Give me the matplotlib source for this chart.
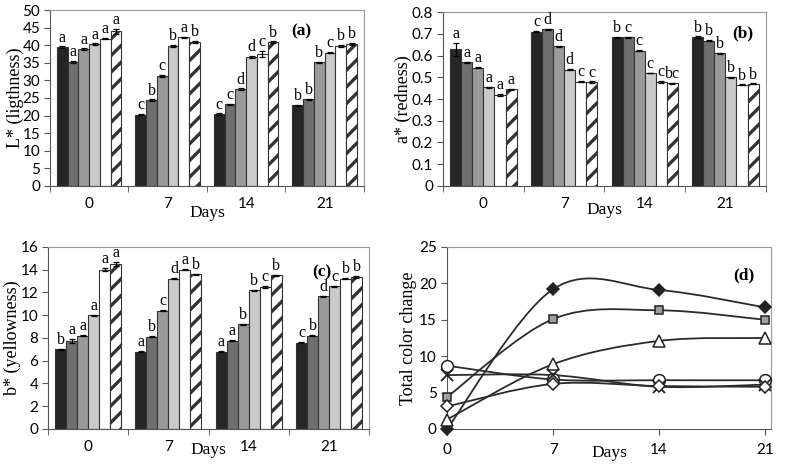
import numpy as np
import matplotlib
matplotlib.use("Agg")
import matplotlib.pyplot as plt
from matplotlib.path import Path
from matplotlib.patches import PathPatch

# days on the x axis
days = ["0", "7", "14", "21"]
day_num = [0, 7, 14, 21]

# (a) L* lightness, six treatments per day
L_vals = [[39.5, 35.2, 38.8, 40.3, 41.9, 43.9],
          [20.3, 24.4, 31.3, 39.8, 42.2, 41.0],
          [20.4, 23.2, 27.5, 36.7, 37.5, 40.9],
          [22.9, 24.6, 35.1, 37.9, 39.8, 40.4]]
L_err = [[0.2, 0.4, 0.3, 0.2, 0.2, 0.7],
         [0.2, 0.2, 0.2, 0.3, 0.2, 0.3],
         [0.2, 0.2, 0.2, 0.2, 0.9, 0.2],
         [0.2, 0.2, 0.2, 0.2, 0.3, 0.3]]
L_let = [["a", "a", "a", "a", "a", "a"],
         ["c", "b", "c", "b", "a", "b"],
         ["c", "c", "d", "d", "c", "b"],
         ["b", "b", "b", "c", "b", "b"]]

# (b) a* redness
a_vals = [[0.630, 0.570, 0.545, 0.455, 0.420, 0.445],
          [0.710, 0.720, 0.643, 0.535, 0.480, 0.477],
          [0.685, 0.685, 0.623, 0.520, 0.478, 0.472],
          [0.685, 0.668, 0.610, 0.500, 0.465, 0.470]]
a_err = [[0.030, 0.002, 0.002, 0.002, 0.004, 0.003],
         [0.002, 0.002, 0.002, 0.002, 0.002, 0.004],
         [0.002, 0.002, 0.003, 0.002, 0.004, 0.002],
         [0.003, 0.002, 0.002, 0.002, 0.002, 0.002]]
a_let = [["a", "a", "a", "a", "a", "a"],
         ["c", "d", "d", "d", "c", "c"],
         ["b", "c", "c", "c", "c", "bc"],
         ["b", "b", "b", "b", "b", "b"]]

# (c) b* yellowness
b_vals = [[7.0, 7.75, 8.2, 10.0, 14.0, 14.5],
          [6.8, 8.1, 10.4, 13.2, 14.0, 13.6],
          [6.8, 7.75, 9.2, 12.2, 12.5, 13.5],
          [7.6, 8.2, 11.65, 12.55, 13.2, 13.35]]
b_err = [[0.05, 0.15, 0.05, 0.05, 0.15, 0.15],
         [0.05, 0.05, 0.05, 0.05, 0.05, 0.05],
         [0.05, 0.05, 0.05, 0.05, 0.1, 0.05],
         [0.05, 0.05, 0.05, 0.05, 0.05, 0.1]]
b_let = [["b", "a", "a", "a", "a", "a"],
         ["a", "b", "c", "d", "a", "b"],
         ["a", "a", "b", "b", "c", "b"],
         ["c", "b", "d", "c", "b", "b"]]

# (d) total colour change
dE_fdiam = [0.0, 19.2, 19.1, 16.7]
dE_square = [4.4, 15.1, 16.3, 15.0]
dE_tri = [1.3, 8.9, 12.1, 12.5]
dE_circle = [8.7, 6.8, 6.7, 6.7]
dE_x = [7.4, 7.4, 5.8, 6.1]
dE_odiam = [3.1, 6.2, 5.9, 5.8]

serif = "Liberation Serif"
sans = "Lato"
bar_faces = ["#262626", "#6f6f6f", "#9a9a9a", "#cacaca", "white", "white"]
frame = "#9a9a9a"

plt.rcParams["font.family"] = [sans, "DejaVu Sans"]
plt.rcParams["hatch.linewidth"] = 2.4

fig = plt.figure(figsize=(7.87, 4.66), dpi=100)


def style_axes(ax, xlab_y, ylab_x, ylabel, tag, tagpos):
    ax.tick_params(axis="both", labelsize=11)
    ax.set_xlabel("Days", family=serif, fontsize=12.5, va="center")
    ax.xaxis.set_label_coords(0.5, xlab_y)
    ax.set_ylabel(ylabel, family=serif, fontsize=13, va="center")
    ax.yaxis.set_label_coords(ylab_x, 0.5)
    for s in ["top", "right"]:
        ax.spines[s].set_color(frame)
    ax.spines["left"].set_color("#555555")
    ax.spines["bottom"].set_color("#555555")
    ax.text(tagpos[0], tagpos[1], tag, transform=ax.transAxes, family=serif,
            fontsize=12.5, fontweight="bold", ha="center", va="center")


def bar_panel(rect, vals, errs, lets, ymax, ystep, ylabel, tag, tagpos, fmt,
              letoff, xlab_y, ylab_x):
    ax = fig.add_axes(rect)
    x = np.arange(len(days))
    w = 0.137
    for k in range(6):
        xs = x + (k - 2.5) * w
        hv = [v[k] for v in vals]
        ev = [e[k] for e in errs]
        ax.bar(xs, hv, width=w, color=bar_faces[k], edgecolor="#333333",
               linewidth=0.8, hatch="//" if k == 5 else None, zorder=2)
        ax.errorbar(xs, hv, yerr=ev, fmt="none", ecolor="black",
                    elinewidth=0.9, capsize=2.2, capthick=0.9, zorder=3)
        for xi, h, e, lt in zip(xs, hv, ev, [l[k] for l in lets]):
            ax.text(xi, h + e + letoff, lt, ha="center", va="bottom",
                    family=serif, fontsize=11.5, zorder=4)
    ax.set_xlim(-0.5, len(days) - 0.5)
    ax.set_ylim(0, ymax)
    ax.set_yticks(np.arange(0, ymax + ystep / 2, ystep))
    ax.yaxis.set_major_formatter(plt.FuncFormatter(fmt))
    ax.set_xticks(x)
    ax.set_xticklabels(days)
    ax.set_xticks(np.arange(-0.5, len(days)), minor=True)
    ax.tick_params(axis="x", which="major", length=0, pad=8)
    ax.tick_params(axis="x", which="minor", length=4, color="#555555")
    ax.tick_params(axis="y", length=4, color="#555555", pad=3)
    style_axes(ax, xlab_y, ylab_x, ylabel, tag, tagpos)
    return ax


bar_panel([0.0635, 0.601, 0.399, 0.3775], L_vals, L_err, L_let, 50, 5,
          "L* (ligthness)", "(a)", (0.80, 0.88), lambda v, p: f"{v:.0f}", 0.2,
          -0.153, -0.111)
bar_panel([0.563, 0.601, 0.410, 0.373], a_vals, a_err, a_let, 0.8, 0.1,
          "a* (redness)", "(b)", (0.93, 0.875),
          lambda v, p: "0" if v == 0 else f"{v:.1f}", 0.004, -0.138, -0.124)
bar_panel([0.061, 0.0794, 0.408, 0.3906], b_vals, b_err, b_let, 16, 2,
          "b* (yellowness)", "(c)", (0.853, 0.863), lambda v, p: f"{v:.0f}",
          0.08, -0.115, -0.112)

# (d) smoothed lines, Excel style
ax = fig.add_axes([0.568, 0.0794, 0.412, 0.3906])


def smooth_path(xv, yv):
    pts = np.column_stack([xv, yv]).astype(float)
    n = len(pts)
    verts = [pts[0]]
    codes = [Path.MOVETO]
    for i in range(n - 1):
        p0 = pts[max(i - 1, 0)]
        p1 = pts[i]
        p2 = pts[i + 1]
        p3 = pts[min(i + 2, n - 1)]
        c1 = p1 + (p2 - p0) / 6.0
        c2 = p2 - (p3 - p1) / 6.0
        verts += [c1, c2, p2]
        codes += [Path.CURVE4] * 3
    return Path(verts, codes)


series = [
    (dE_fdiam, dict(marker="D", ms=6.5, mfc="#222222", mec="#222222")),
    (dE_square, dict(marker="s", ms=5.5, mfc="#a0a0a0", mec="#222222")),
    (dE_tri, dict(marker="^", ms=9, mfc="white", mec="#222222")),
    (dE_circle, dict(marker="o", ms=8.5, mfc="white", mec="#222222")),
    (dE_x, dict(marker="x", ms=8, mfc="none", mec="#222222", mew=1.3)),
    (dE_odiam, dict(marker="D", ms=6.5, mfc="white", mec="#222222")),
]
for yv, mk in series:
    ax.add_patch(PathPatch(smooth_path(day_num, yv), facecolor="none",
                           edgecolor="#2b2b2b", linewidth=1.3, zorder=2))
    kw = dict(mk)
    kw.setdefault("mew", 1.1)
    ax.plot(day_num, yv, linestyle="none", zorder=3, clip_on=False, **kw)

ax.set_xlim(0, 21.4)
ax.set_ylim(0, 25)
ax.set_xticks(day_num)
ax.set_yticks(np.arange(0, 26, 5))
ax.tick_params(axis="both", length=4, color="#555555")
ax.tick_params(axis="x", pad=6)
style_axes(ax, -0.132, -0.12, "Total color change", "(d)", (0.917, 0.846))

fig.savefig("out.png", dpi=100)
